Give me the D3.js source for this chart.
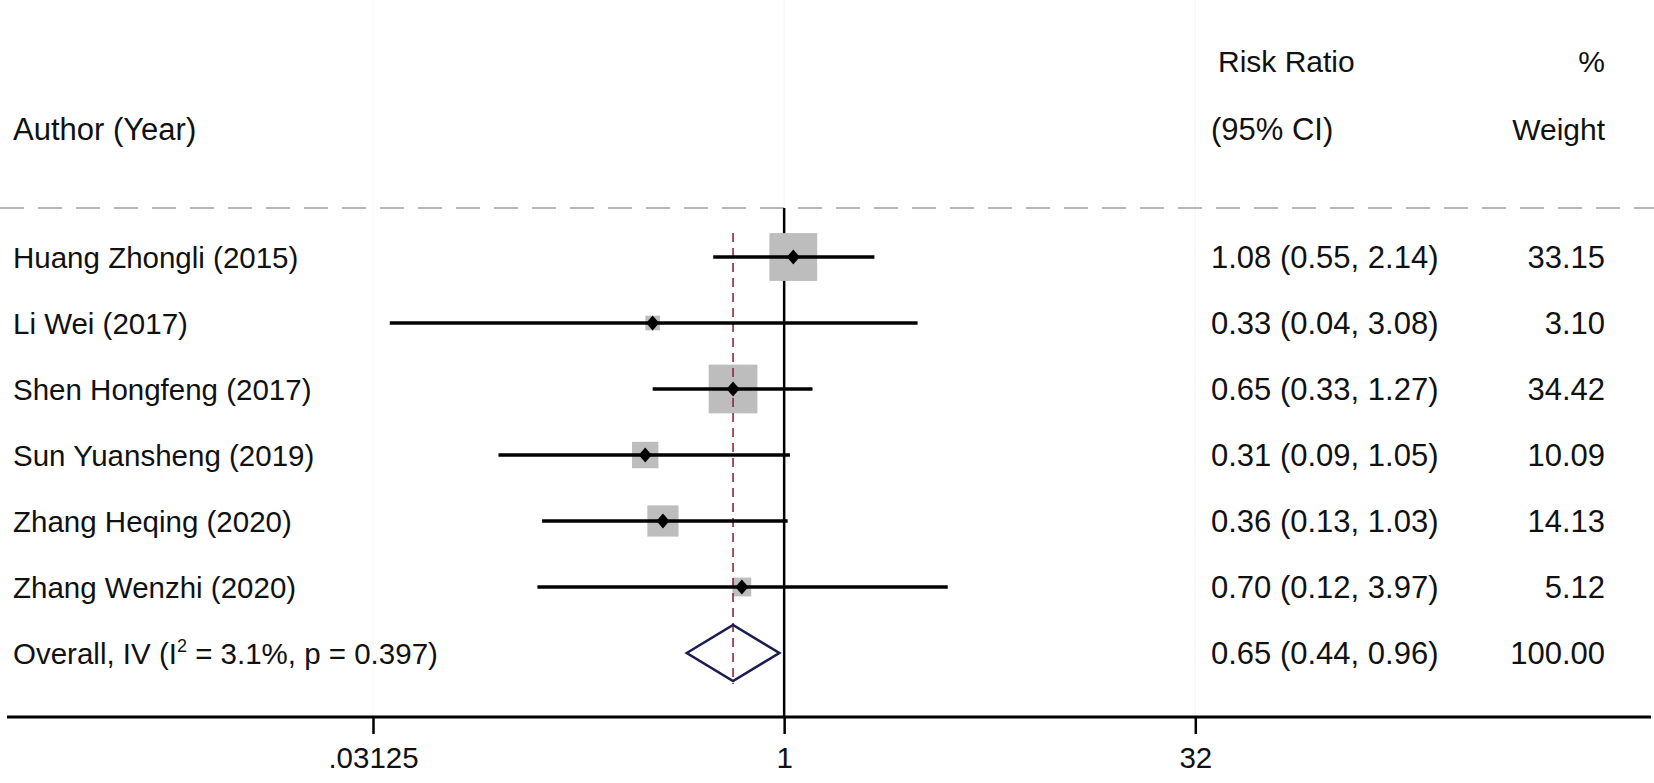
<!DOCTYPE html>
<html>
<head>
<meta charset="utf-8">
<script src="https://cdn.jsdelivr.net/npm/d3@7"></script>
<style>
  html, body { margin: 0; padding: 0; background: #fff; }
  svg { display: block; }
  text { font-family: "Liberation Sans", Arial, sans-serif; fill: #111; }
</style>
</head>
<body>
<svg id="chart" width="1654" height="783"></svg>
<script>
// ---- data ----
const studies = ["Huang Zhongli (2015)", "Li Wei (2017)", "Shen Hongfeng (2017)",
                 "Sun Yuansheng (2019)", "Zhang Heqing (2020)", "Zhang Wenzhi (2020)"];
const estimates = [1.08, 0.33, 0.65, 0.31, 0.36, 0.70];
const lowerCI   = [0.55, 0.036, 0.33, 0.09, 0.13, 0.125];
const upperCI   = [2.14, 3.08, 1.27, 1.05, 1.03, 3.97];
const weights   = [33.15, 3.10, 34.42, 10.09, 14.13, 5.12];
const ciText    = ["1.08 (0.55, 2.14)", "0.33 (0.04, 3.08)", "0.65 (0.33, 1.27)",
                   "0.31 (0.09, 1.05)", "0.36 (0.13, 1.03)", "0.70 (0.12, 3.97)"];
const weightText = ["33.15", "3.10", "34.42", "10.09", "14.13", "5.12"];
const overall   = {est: 0.65, lo: 0.44, hi: 0.96};
const overallCIText = "0.65 (0.44, 0.96)";
const overallWeightText = "100.00";
const tickValues = [0.03125, 1, 32];
const tickLabels = [".03125", "1", "32"];

// ---- layout ----
const svg = d3.select("#chart");
const W = 1654, H = 783;
const fs = 29.5;     // left labels
const fsR = 31;      // right-hand columns

const x = d3.scaleLog().base(2).domain([0.03125, 32]).range([373, 1195.3]);
const y = d3.scaleLinear().domain([0, 6]).range([257, 653]);
const axisY = 717;

// very faint vertical guide lines at ticks
svg.selectAll("line.faint").data(tickValues).enter().append("line")
  .attr("x1", d => x(d)).attr("x2", d => x(d))
  .attr("y1", 0).attr("y2", axisY)
  .attr("stroke", "#f8f8f8").attr("stroke-width", 1.5);

// header separator
svg.append("line")
  .attr("x1", 0).attr("x2", W).attr("y1", 208).attr("y2", 208)
  .attr("stroke", "#b8b8b8").attr("stroke-width", 2)
  .attr("stroke-dasharray", "24,14");

// header texts
svg.append("text").attr("x", 13).attr("y", 129 + 10.5).attr("font-size", 31).text("Author (Year)");
svg.append("text").attr("x", 1218).attr("y", 61 + 10.5).attr("font-size", 30).text("Risk Ratio");
svg.append("text").attr("x", 1211).attr("y", 129 + 10.5).attr("font-size", fsR).text("(95% CI)");
svg.append("text").attr("x", 1605).attr("y", 61 + 10.5).attr("font-size", 30).attr("text-anchor", "end").text("%");
svg.append("text").attr("x", 1605).attr("y", 129 + 10.5).attr("font-size", 30).attr("text-anchor", "end").text("Weight");

// null line at 1
svg.append("line")
  .attr("x1", x(1)).attr("x2", x(1)).attr("y1", 208).attr("y2", axisY)
  .attr("stroke", "#000").attr("stroke-width", 2.5);

// weight boxes
const k = 8.3;
const rows = studies.map((s, i) => ({s, i, est: estimates[i], lo: lowerCI[i], hi: upperCI[i], w: weights[i]}));
svg.selectAll("rect.box").data(rows).enter().append("rect")
  .attr("x", d => x(d.est) - k * Math.sqrt(d.w) / 2)
  .attr("y", d => y(d.i) - k * Math.sqrt(d.w) / 2)
  .attr("width", d => k * Math.sqrt(d.w))
  .attr("height", d => k * Math.sqrt(d.w))
  .attr("fill", "#bdbdbd");

// overall estimate dashed line
svg.append("line")
  .attr("x1", x(overall.est)).attr("x2", x(overall.est))
  .attr("y1", 233).attr("y2", 684)
  .attr("stroke", "#8a2a3a").attr("stroke-width", 1.6)
  .attr("stroke-dasharray", "9,6");

// CI lines
svg.selectAll("line.ci").data(rows).enter().append("line")
  .attr("x1", d => x(d.lo)).attr("x2", d => x(d.hi))
  .attr("y1", d => y(d.i)).attr("y2", d => y(d.i))
  .attr("stroke", "#000").attr("stroke-width", 3.5);

// point diamonds
svg.selectAll("path.pt").data(rows).enter().append("path")
  .attr("d", d => {
    const cx = x(d.est), cy = y(d.i), a = 6.5, b = 7.5;
    return `M${cx - a},${cy}L${cx},${cy - b}L${cx + a},${cy}L${cx},${cy + b}Z`;
  })
  .attr("fill", "#000");

// overall diamond
const oy = y(6);
svg.append("path")
  .attr("d", `M${x(overall.lo)},${oy}L${x(overall.est)},${oy - 28}L${x(overall.hi)},${oy}L${x(overall.est)},${oy + 28}Z`)
  .attr("fill", "none").attr("stroke", "#1c1c50").attr("stroke-width", 2.6);

// row labels
svg.selectAll("text.lab").data(rows).enter().append("text")
  .attr("x", 13).attr("y", d => y(d.i) + 10.5).attr("font-size", fs).text(d => d.s);
svg.selectAll("text.ci").data(rows).enter().append("text")
  .attr("x", 1211).attr("y", d => y(d.i) + 11).attr("font-size", fsR).text((d, i) => ciText[i]);
svg.selectAll("text.wt").data(rows).enter().append("text")
  .attr("x", 1605).attr("y", d => y(d.i) + 11).attr("font-size", fsR)
  .attr("text-anchor", "end").text((d, i) => weightText[i]);

// overall row texts
const ot = svg.append("text").attr("x", 13).attr("y", oy + 10.5).attr("font-size", fs);
ot.append("tspan").text("Overall, IV (I");
ot.append("tspan").attr("font-size", 18).attr("dy", -12).text("2");
ot.append("tspan").attr("dy", 12).text(" = 3.1%, p = 0.397)");
svg.append("text").attr("x", 1211).attr("y", oy + 11).attr("font-size", fsR).text(overallCIText);
svg.append("text").attr("x", 1605).attr("y", oy + 11).attr("font-size", fsR)
  .attr("text-anchor", "end").text(overallWeightText);

// x axis
const axis = d3.axisBottom(x).tickValues(tickValues)
  .tickFormat((d, i) => tickLabels[i]).tickSize(17).tickSizeOuter(0).tickPadding(13);
const g = svg.append("g").attr("transform", `translate(0,${axisY})`).call(axis);
g.select(".domain").remove();
g.selectAll(".tick line").attr("stroke", "#000").attr("stroke-width", 2.5);
g.selectAll(".tick text").attr("font-size", 29.5).attr("fill", "#111")
  .style("font-family", "'Liberation Sans', Arial, sans-serif");
svg.append("line").attr("x1", 7).attr("x2", 1651).attr("y1", axisY).attr("y2", axisY)
  .attr("stroke", "#000").attr("stroke-width", 3);
</script>
</body>
</html>
